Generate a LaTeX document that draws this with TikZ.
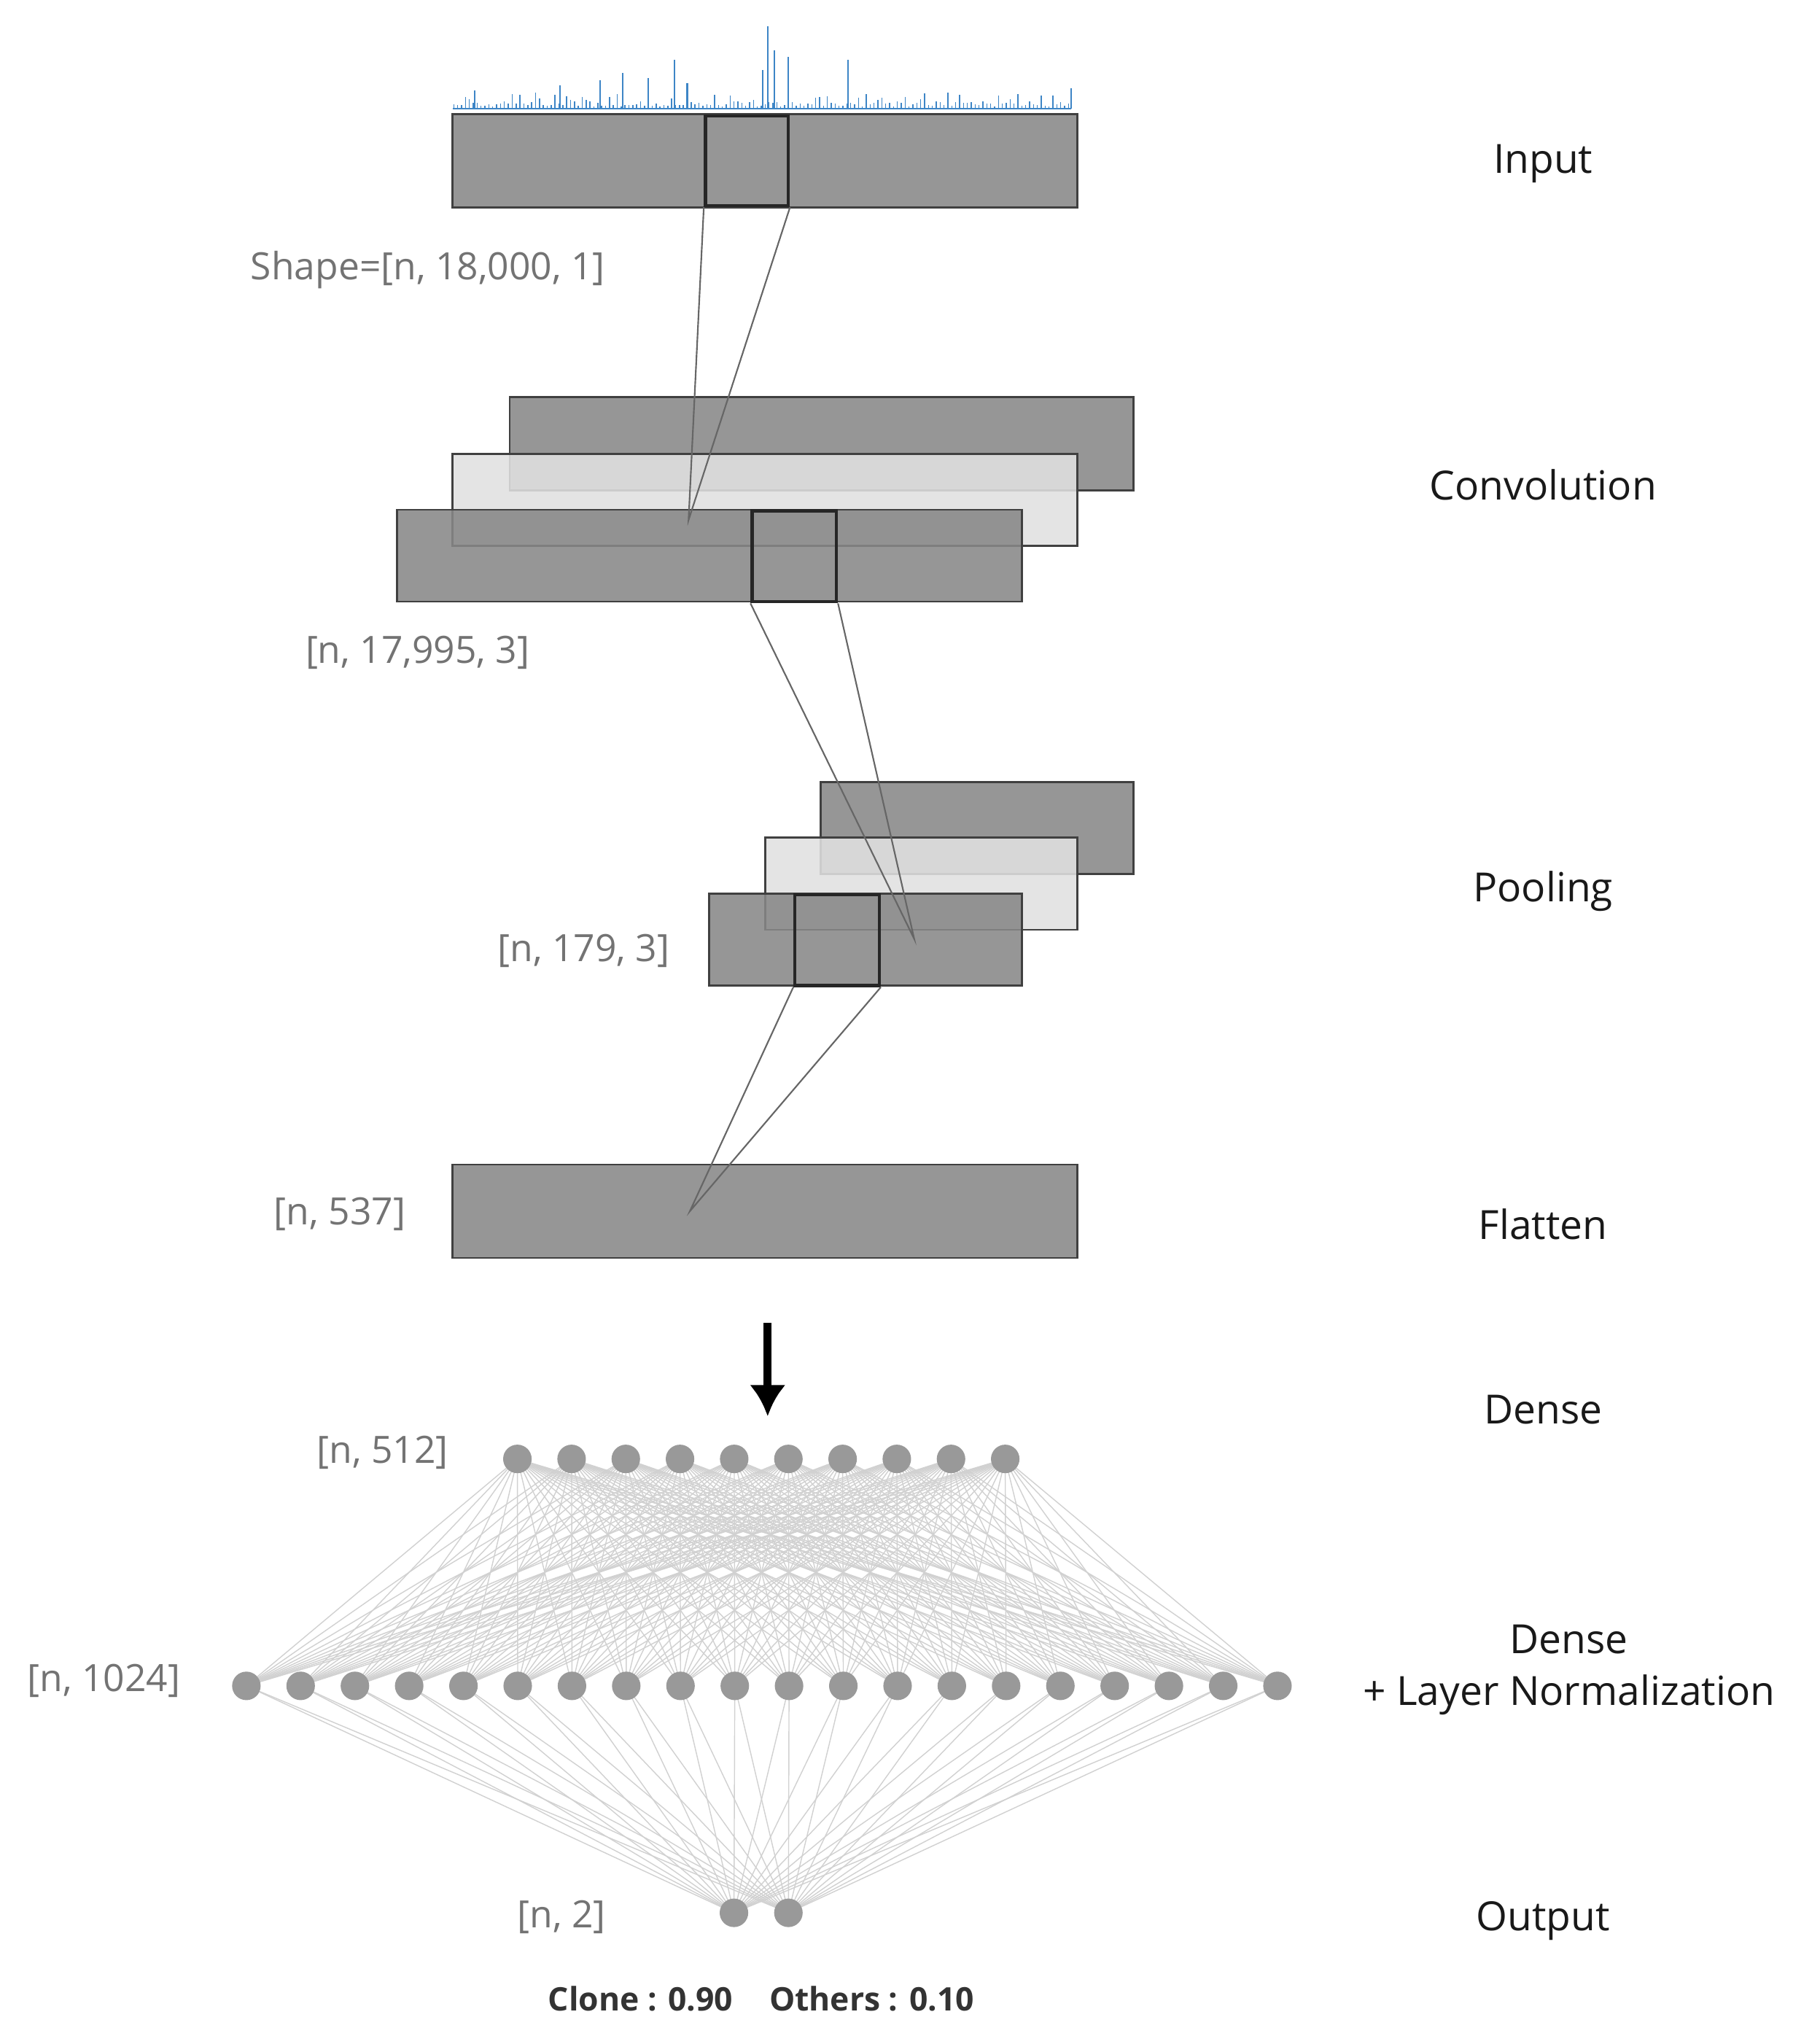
\documentclass[tikz,border=0pt]{standalone}
\usepackage{fontspec}
\setmainfont{Open Sans}
\usetikzlibrary{arrows.meta}
\definecolor{spec}{HTML}{3D85C6}
\begin{document}
\begin{tikzpicture}[x=1pt,y=-1pt,
 dark/.style={draw=black!75,line width=1.5pt,fill=black!47,fill opacity=0.88},
 light/.style={draw=black!75,line width=1.5pt,fill=black!12,fill opacity=0.88},
 kbox/.style={draw=black!85,line width=2.5pt},
 link/.style={draw=black!60,line width=1.2pt},
 neu/.style={circle,fill=black!40,minimum size=22pt,inner sep=0pt},
 edge/.style={draw=black!18,line width=0.8pt},
 lab/.style={font=\fontsize{31}{37}\selectfont,text=black!90},
 dim/.style={font=\fontsize{29}{35}\selectfont,text=black!55}]
\useasboundingbox (0,0) rectangle (1403,1570);
% spectrum
\pgfmathsetseed{7}
\draw[spec,line width=1.2pt] (349,84) -- (826,84);
\foreach \x in {350,353,...,826}{
  \pgfmathsetmacro\h{rnd*rnd*12+2}
  \draw[spec,line width=0.8pt] (\x,84) -- (\x,84-\h);
}
\foreach \x/\h in {520/38,592/64,597/45,608/40,654/38,480/28,500/24,530/20,588/30,432/18,463/22,366/14,826/16,713/12}
  \draw[spec,line width=1.2pt] (\x,84) -- (\x,84-\h);
% input
\node[dark,minimum width=482pt,minimum height=72pt,inner sep=0pt] (in) at (590,124) {};
\node[kbox,minimum width=64pt,minimum height=69pt,inner sep=0pt] (inb) at (576,124) {};
% conv
\node[dark,minimum width=481pt,minimum height=72pt,inner sep=0pt] (c3) at (633.5,342) {};
\node[light,minimum width=482pt,minimum height=71pt,inner sep=0pt] (c2) at (590,385.5) {};
\node[dark,minimum width=482pt,minimum height=71pt,inner sep=0pt] (c1) at (547,428.5) {};
\node[kbox,minimum width=65pt,minimum height=70pt,inner sep=0pt] (cb) at (612.5,429) {};
\coordinate (cp) at (531,401);
\draw[link] (inb.south west) -- (cp) -- (inb.south east);
% pooling
\node[dark,minimum width=241pt,minimum height=71pt,inner sep=0pt] (p3) at (753.5,638.5) {};
\node[light,minimum width=241pt,minimum height=71pt,inner sep=0pt] (p2) at (710.5,681.5) {};
\node[dark,minimum width=241pt,minimum height=71pt,inner sep=0pt] (p1) at (667.5,724.5) {};
\node[kbox,minimum width=65pt,minimum height=70pt,inner sep=0pt] (pb) at (645.5,725) {};
\coordinate (pp) at (705,724);
\draw[link] (cb.south west) -- (pp) -- (cb.south east);
% flatten
\node[dark,minimum width=482pt,minimum height=72pt,inner sep=0pt] (fl) at (590,934) {};
\coordinate (fp) at (532,934);
\draw[link] (pb.south west) -- (fp) -- (pb.south east);
% arrow
\coordinate (a1) at (592,1020);
\coordinate (a2) at (592,1092);
\draw[line width=6pt,-{Latex[length=24pt,width=28pt]}] (a1) -- (a2);
% dense layers
\foreach \i in {0,...,9}{\coordinate (d\i) at ({399+\i*41.8},1125);}
\foreach \j in {0,...,19}{\coordinate (e\j) at ({190+\j*41.85},1300);}
\coordinate (o0) at (566,1475);
\coordinate (o1) at (608,1475);
\foreach \i in {0,...,9}{\foreach \j in {0,...,19}{\draw[edge] (d\i) -- (e\j);}}
\foreach \j in {0,...,19}{\draw[edge] (e\j) -- (o0); \draw[edge] (e\j) -- (o1);}
\foreach \i in {0,...,9}{\node[neu] (nd\i) at (d\i) {};}
\foreach \j in {0,...,19}{\node[neu] (ne\j) at (e\j) {};}
\node[neu] (no0) at (o0) {}; \node[neu] (no1) at (o1) {};
% dim labels
\node[dim] (s0) at (330,208) {Shape=[n, 18,000, 1]};
\node[dim] (s1) at (322,503) {[n, 17,995, 3]};
\node[dim] (s2) at (450,733) {[n, 179, 3]};
\node[dim] (s3) at (262,936) {[n, 537]};
\node[dim] (s4) at (295,1120) {[n, 512]};
\node[dim] (s5) at (80,1296) {[n, 1024]};
\node[dim] (s6) at (433,1478) {[n, 2]};
\node[font=\fontsize{25}{30}\selectfont\bfseries,text=black!80] (cl) at (587,1541) {Clone : 0.90\hspace{28pt}Others : 0.10};
% right labels
\node[lab] (l1) at (1190,126) {Input};
\node[lab] (l2) at (1190,374) {Convolution};
\node[lab] (l3) at (1190,687) {Pooling};
\node[lab] (l4) at (1190,944) {Flatten};
\node[lab] (l5) at (1190,1087) {Dense};
\node[lab] (l6) at (1210,1264) {Dense};
\node[lab] (l7) at (1210,1307) {+ Layer Normalization};
\node[lab] (l8) at (1190,1481) {Output};
\end{tikzpicture}
\end{document}
